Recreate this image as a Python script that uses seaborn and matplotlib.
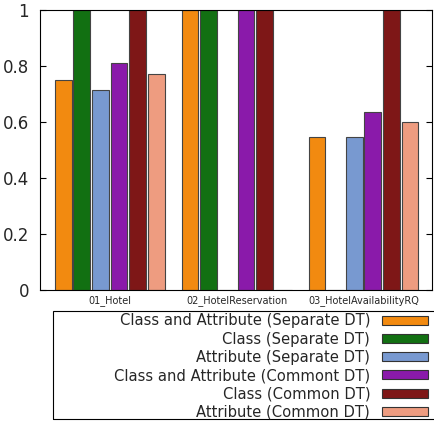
import pandas as pd
import numpy as np
import seaborn as sns
import matplotlib.pyplot as plt
from matplotlib.patches import Rectangle, Patch

groups = ["01_Hotel", "02_HotelReservation", "03_HotelAvailabilityRQ"]
series = ["Class and Attribute (Separate DT)", "Class (Separate DT)", "Attribute (Separate DT)",
          "Class and Attribute (Commont DT)", "Class (Common DT)", "Attribute (Common DT)"]
ca_sep = [0.75, 1.0, 0.545]
c_sep = [1.0, 1.0, 0.0]
a_sep = [0.714, 0.0, 0.545]
ca_com = [0.81, 1.0, 0.636]
c_com = [1.0, 1.0, 1.0]
a_com = [0.77, 0.0, 0.6]
colors = ["#F28A10", "#127012", "#7899D0", "#8A1AAA", "#7E1717", "#EE9C80"]

values = [ca_sep, c_sep, a_sep, ca_com, c_com, a_com]
rows = []
for s, vals in zip(series, values):
  for g, v in zip(groups, vals):
    rows.append({"group": g, "series": s, "value": v})
df = pd.DataFrame(rows)

sns.set_style("white")
plt.rcParams['font.family'] = ['DejaVu Sans']

fig = plt.figure(figsize=(4.34, 4.24), dpi=100)
ax = fig.add_axes([40/434, 134/424, 392/434, 280/424])
sns.barplot(data=df, x="group", y="value", hue="series", hue_order=series,
            palette=colors, width=0.88, gap=0.1, edgecolor="#444444", linewidth=0.8,
            saturation=1, legend=False, ax=ax)

ax.set_ylim(0, 1)
ax.set_xlim(-0.55, 2.54)
ax.set_xlabel("")
ax.set_ylabel("")
ax.set_yticks([0, 0.2, 0.4, 0.6, 0.8, 1.0])
ax.set_yticklabels(["0", "0.2", "0.4", "0.6", "0.8", "1"], fontsize=12)
ax.tick_params(axis="y", direction="in", length=4, left=True, right=True, color="black", pad=8)
ax.tick_params(axis="x", length=0, labelsize=7, pad=4)
for sp in ax.spines.values():
  sp.set_color("black")
  sp.set_linewidth(0.8)

handles = [Patch(facecolor=c, edgecolor="#333333", linewidth=0.8) for c in colors]
leg = fig.legend(handles, series, loc="upper right", bbox_to_anchor=(435/434, 1 - 306/424),
                 markerfirst=False, frameon=False, fontsize=10.6, handlelength=3.1,
                 handleheight=0.55, labelspacing=0.22, handletextpad=0.8, borderpad=0.0)
fig.patches.append(Rectangle((52.5/434, 1 - 419/424), 390/434, 108/424, transform=fig.transFigure,
                             fill=False, edgecolor="black", linewidth=0.8))

plt.savefig("out.png", dpi=100)
